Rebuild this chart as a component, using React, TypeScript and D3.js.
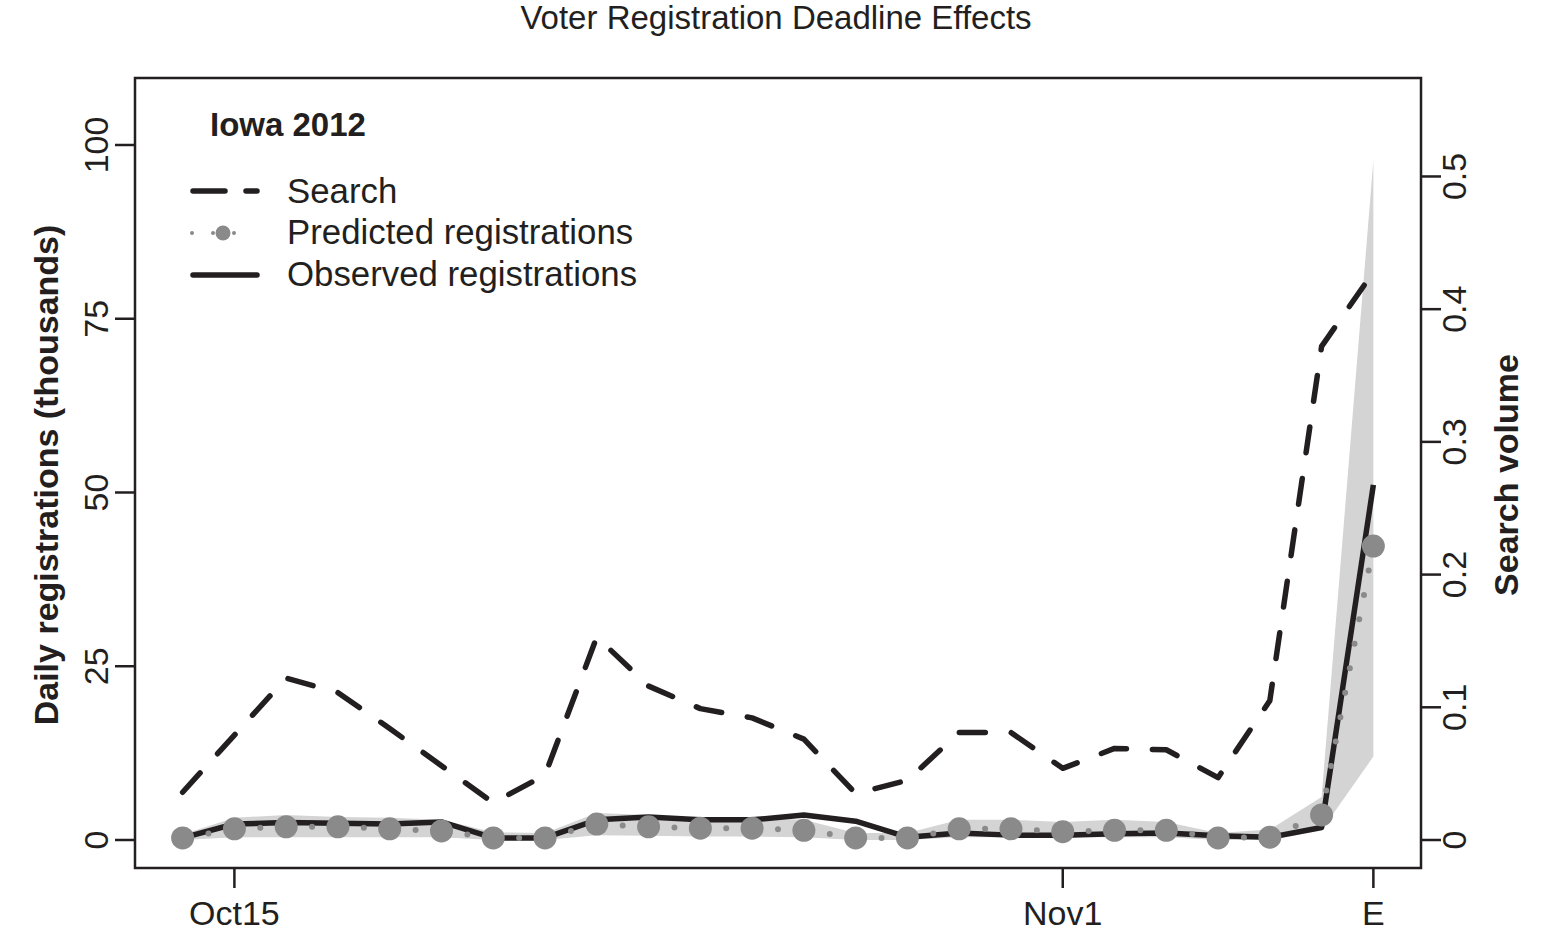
import React from 'react';
import * as d3 from 'd3';

// one value per day, Oct 14 .. election day
const search = [0.036, 0.079, 0.122, 0.111, 0.084, 0.056, 0.028, 0.049, 0.153, 0.116, 0.099, 0.092,
  0.076, 0.035, 0.045, 0.081, 0.081, 0.054, 0.069, 0.068, 0.047, 0.105, 0.372, 0.428];
const observed = [0.3, 2.3, 2.5, 2.4, 2.3, 2.6, 0.3, 0.3, 2.9, 3.3, 2.9, 2.9,
  3.6, 2.7, 0.4, 1.0, 0.7, 0.7, 0.9, 1.0, 0.6, 0.4, 1.8, 51.1];
const predicted = [0.3, 1.6, 1.9, 1.9, 1.6, 1.3, 0.3, 0.3, 2.3, 1.9, 1.7, 1.7,
  1.4, 0.3, 0.3, 1.6, 1.6, 1.2, 1.4, 1.4, 0.3, 0.4, 3.6, 42.3];
const bandUpper = [0.8, 3.2, 3.6, 3.3, 3.2, 2.9, 1.1, 1.0, 3.9, 3.6, 3.2, 3.2,
  2.9, 1.0, 1.0, 2.9, 2.9, 2.6, 2.9, 2.6, 1.0, 1.5, 6.2, 97.8];
const bandLower = [0, 0.4, 0.4, 0.4, 0.4, 0.4, 0, 0, 0.7, 0.6, 0.5, 0.5,
  0.4, 0, 0, 0.4, 0.4, 0.4, 0.4, 0.4, 0, 0, 1.4, 12];

const xTickIdx = [1, 17, 23];
const xTickLabels = ['Oct15', 'Nov1', 'E'];
const leftTicks = [0, 25, 50, 75, 100];
const rightTicks = [0, 0.1, 0.2, 0.3, 0.4, 0.5];

const FONT = '"Liberation Sans", Arial, Helvetica, sans-serif';
const INK = '#231f20';
const DOT = '#8a8a8a';
const BAND = '#d4d4d4';

export default function App() {
  const plot = { left: 135, right: 1421, top: 78, bottom: 868 };
  const idx = d3.range(search.length);

  const x = d3.scaleLinear().domain([-0.92, 23.92]).range([plot.left, plot.right]);
  const yL = d3.scaleLinear().domain([-4.03, 109.64]).range([plot.bottom, plot.top]);
  const yR = d3.scaleLinear().domain([-0.0211, 0.5742]).range([plot.bottom, plot.top]);

  const line = (vals: number[], y: d3.ScaleLinear<number, number>) =>
    d3.line<number>().x((d, i) => x(i)).y(d => y(d))(vals) || '';

  const band = d3.area<number>()
    .x(i => x(i))
    .y0(i => yL(bandLower[i]))
    .y1(i => yL(bandUpper[i]))(idx) || '';

  // dotted predicted line, drawn per segment so dots land between the points
  const dotSegs = idx.slice(1).map(i => {
    const x1 = x(i - 1), y1 = yL(predicted[i - 1]), x2 = x(i), y2 = yL(predicted[i]);
    const len = Math.hypot(x2 - x1, y2 - y1);
    const period = len / Math.max(1, Math.round(len / 26));
    return { x1, y1, x2, y2, period };
  });

  return (
    <svg width={1541} height={943} style={{ position: 'absolute', left: 0, top: 0 }} fontFamily={FONT}>
      <rect width={1541} height={943} fill="white" />
      <text x={776} y={29} textAnchor="middle" fontSize={33} fill={INK}>Voter Registration Deadline Effects</text>

      <path d={band} fill={BAND} />
      <path d={line(search, yR)} fill="none" stroke={INK} strokeWidth={5.5}
        strokeDasharray="26 26" strokeLinecap="round" strokeLinejoin="round" />
      <path d={line(observed, yL)} fill="none" stroke={INK} strokeWidth={5.5} strokeLinejoin="round" />
      {dotSegs.map((s, i) => (
        <line key={i} x1={s.x1} y1={s.y1} x2={s.x2} y2={s.y2} stroke={DOT} strokeWidth={6}
          strokeLinecap="round" strokeDasharray={`0 ${s.period}`} />
      ))}
      {predicted.map((v, i) => (
        <circle key={i} cx={x(i)} cy={yL(v)} r={11.5} fill={DOT} />
      ))}

      <rect x={plot.left} y={plot.top} width={plot.right - plot.left} height={plot.bottom - plot.top}
        fill="none" stroke={INK} strokeWidth={2.5} />

      {/* bottom axis */}
      {xTickIdx.map((t, i) => (
        <g key={t}>
          <line x1={x(t)} x2={x(t)} y1={plot.bottom} y2={plot.bottom + 20} stroke={INK} strokeWidth={2.5} />
          <text x={x(t)} y={925} textAnchor="middle" fontSize={34} fill={INK}>{xTickLabels[i]}</text>
        </g>
      ))}

      {/* left axis */}
      {leftTicks.map(t => (
        <g key={t}>
          <line x1={plot.left - 20} x2={plot.left} y1={yL(t)} y2={yL(t)} stroke={INK} strokeWidth={2.5} />
          <text transform={`translate(108,${yL(t)}) rotate(-90)`} textAnchor="middle" fontSize={34} fill={INK}>{t}</text>
        </g>
      ))}
      <text transform="translate(58,475) rotate(-90)" textAnchor="middle" fontSize={34} fontWeight="bold" fill={INK}>
        Daily registrations (thousands)
      </text>

      {/* right axis */}
      {rightTicks.map(t => (
        <g key={t}>
          <line x1={plot.right} x2={plot.right + 20} y1={yR(t)} y2={yR(t)} stroke={INK} strokeWidth={2.5} />
          <text transform={`translate(1466,${yR(t)}) rotate(-90)`} textAnchor="middle" fontSize={34} fill={INK}>{t}</text>
        </g>
      ))}
      <text transform="translate(1518,475) rotate(-90)" textAnchor="middle" fontSize={34} fontWeight="bold" fill={INK}>
        Search volume
      </text>

      {/* legend */}
      <text x={210} y={136} fontSize={33} fontWeight="bold" fill={INK}>Iowa 2012</text>
      <line x1={193} x2={257} y1={191} y2={191} stroke={INK} strokeWidth={5.5} strokeDasharray="32 21" strokeLinecap="round" />
      <line x1={192} x2={255} y1={233} y2={233} stroke={DOT} strokeWidth={4} strokeLinecap="round" strokeDasharray="0 21" />
      <circle cx={223} cy={233} r={7.5} fill={DOT} />
      <line x1={193} x2={257} y1={275} y2={275} stroke={INK} strokeWidth={5.5} strokeLinecap="round" />
      <text x={287} y={203} fontSize={34.8} fill={INK}>Search</text>
      <text x={287} y={244} fontSize={34.8} fill={INK}>Predicted registrations</text>
      <text x={287} y={286} fontSize={34.8} fill={INK}>Observed registrations</text>
    </svg>
  );
}
